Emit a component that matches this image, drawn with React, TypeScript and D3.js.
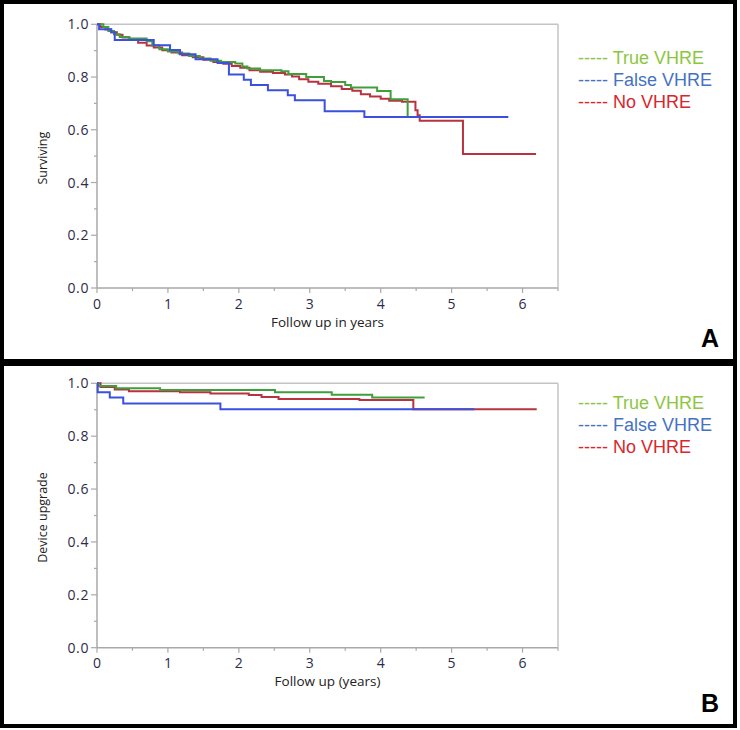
import React from 'react';
import * as d3 from 'd3';

type Pt = [number, number];

const seriesNames = ['True VHRE', 'False VHRE', 'No VHRE'];
const lineColors = ['#3f9f3a', '#3b50dc', '#b8323f'];
const legendColors = ['#8cc63f', '#4472c4', '#d9262b'];

const yTickValues = [0, 0.2, 0.4, 0.6, 0.8, 1.0];
const yMinorValues = [0.1, 0.3, 0.5, 0.7, 0.9];
const xTickValues = [0, 1, 2, 3, 4, 5, 6];
const xMinorValues = [0.5, 1.5, 2.5, 3.5, 4.5, 5.5, 6.5];

// Panel A: survival
const survTrue: Pt[] = [[0, 1], [0.09, 0.99], [0.16, 0.975], [0.24, 0.962], [0.32, 0.952], [0.45, 0.946], [0.7, 0.936], [0.78, 0.92], [0.88, 0.905], [1.0, 0.897], [1.15, 0.889], [1.3, 0.88], [1.45, 0.87], [1.6, 0.862], [1.75, 0.857], [1.95, 0.851], [2.05, 0.84], [2.12, 0.832], [2.3, 0.826], [2.6, 0.822], [2.7, 0.812], [2.95, 0.8], [3.2, 0.785], [3.3, 0.781], [3.5, 0.77], [3.58, 0.76], [3.95, 0.747], [4.14, 0.716], [4.38, 0.648]];
const survFalse: Pt[] = [[0, 1], [0.03, 0.981], [0.2, 0.97], [0.25, 0.94], [0.8, 0.921], [1.03, 0.903], [1.17, 0.886], [1.39, 0.867], [1.7, 0.853], [1.86, 0.81], [2.07, 0.79], [2.17, 0.77], [2.41, 0.75], [2.69, 0.731], [2.79, 0.712], [3.21, 0.67], [3.77, 0.648], [5.8, 0.648]];
const survNo: Pt[] = [[0, 1], [0.05, 0.99], [0.12, 0.98], [0.2, 0.97], [0.28, 0.96], [0.36, 0.95], [0.46, 0.94], [0.58, 0.93], [0.7, 0.92], [0.8, 0.912], [0.92, 0.902], [1.05, 0.893], [1.2, 0.883], [1.35, 0.875], [1.5, 0.866], [1.64, 0.857], [1.78, 0.85], [1.9, 0.842], [2.02, 0.835], [2.15, 0.826], [2.3, 0.82], [2.48, 0.815], [2.65, 0.81], [2.75, 0.802], [2.85, 0.792], [2.98, 0.782], [3.12, 0.775], [3.3, 0.765], [3.45, 0.755], [3.6, 0.748], [3.72, 0.735], [3.85, 0.726], [4.0, 0.718], [4.12, 0.71], [4.3, 0.706], [4.49, 0.674], [4.52, 0.655], [4.55, 0.634], [5.16, 0.508], [6.19, 0.508]];

// Panel B: device upgrade
const upgTrue: Pt[] = [[0, 1], [0.02, 0.99], [0.27, 0.981], [0.89, 0.975], [2.51, 0.966], [3.31, 0.957], [3.88, 0.946], [4.62, 0.946]];
const upgFalse: Pt[] = [[0, 1], [0.01, 0.966], [0.18, 0.946], [0.37, 0.924], [1.74, 0.902], [5.32, 0.902]];
const upgNo: Pt[] = [[0, 1], [0.05, 0.986], [0.25, 0.977], [0.45, 0.97], [1.17, 0.966], [1.6, 0.961], [2.14, 0.956], [2.32, 0.948], [2.56, 0.941], [3.7, 0.937], [4.46, 0.902], [6.2, 0.902]];

const tickFont = '"Open Sans", sans-serif';
const legendFont = '"Liberation Sans", Arial, sans-serif';

interface PanelProps {
  top: number;
  bottom: number;
  series: Pt[][];
  xTitle: string;
  yTitle: string;
  letter: string;
  letterY: number;
  legendY: number;
  xLabelY: number;
  xTitleY: number;
}

function Panel(p: PanelProps) {
  const x = d3.scaleLinear().domain([0, 6.5]).range([97, 558]);
  const y = d3.scaleLinear().domain([0, 1]).range([p.bottom, p.top]);
  const line = d3.line<Pt>().x(d => x(d[0])).y(d => y(d[1])).curve(d3.curveStepAfter);
  const drawOrder = [2, 0, 1];
  const axisColor = '#a9a9a9';
  const frameColor = '#c4c4c4';
  return (
    <g>
      {/* frame */}
      <line x1={x(0)} x2={x(6.5)} y1={y(1)} y2={y(1)} stroke={frameColor} strokeWidth={1.5} />
      <line x1={x(6.5)} x2={x(6.5)} y1={y(1)} y2={y(0)} stroke={frameColor} strokeWidth={1.5} />
      <line x1={x(0)} x2={x(0)} y1={y(1)} y2={y(0)} stroke={axisColor} strokeWidth={1.5} />
      <line x1={x(0)} x2={x(6.5)} y1={y(0)} y2={y(0)} stroke={axisColor} strokeWidth={1.5} />
      {yTickValues.map(v => (
        <g key={'yt' + v}>
          <line x1={x(0) - 6} x2={x(0)} y1={y(v)} y2={y(v)} stroke={axisColor} strokeWidth={1.2} />
          <text x={x(0) - 8} y={y(v) + 5} textAnchor="end" fontFamily={tickFont} fontSize={14} fill="#2c2c4a" letterSpacing={0.6}>{v.toFixed(1)}</text>
        </g>
      ))}
      {yMinorValues.map(v => (
        <line key={'ym' + v} x1={x(0) - 3} x2={x(0)} y1={y(v)} y2={y(v)} stroke={axisColor} strokeWidth={1.2} />
      ))}
      {xTickValues.map(v => (
        <g key={'xt' + v}>
          <line x1={x(v)} x2={x(v)} y1={y(0)} y2={y(0) + 5} stroke={axisColor} strokeWidth={1.2} />
          <text x={x(v)} y={p.xLabelY} textAnchor="middle" fontFamily={tickFont} fontSize={14} fill="#2c2c4a">{v}</text>
        </g>
      ))}
      {xMinorValues.map(v => (
        <line key={'xm' + v} x1={x(v)} x2={x(v)} y1={y(0)} y2={y(0) + 3} stroke={axisColor} strokeWidth={1.2} />
      ))}
      <text x={(x(0) + x(6.5)) / 2} y={p.xTitleY} textAnchor="middle" fontFamily={tickFont} fontSize={13.5} fill="#222">{p.xTitle}</text>
      <text transform={`translate(47,${(y(0) + y(1)) / 2 + 2}) rotate(-90)`} textAnchor="middle" fontFamily={tickFont} fontSize={12.5} fill="#222">{p.yTitle}</text>
      {drawOrder.map(i => (
        <path key={'s' + i} d={line(p.series[i]) || ''} fill="none" stroke={lineColors[i]} strokeWidth={2} />
      ))}
      {seriesNames.map((n, i) => (
        <text key={'lg' + i} x={578} y={p.legendY + i * 22} fontFamily={legendFont} fontSize={18} fill={legendColors[i]}>{'----- ' + n}</text>
      ))}
      <text x={701} y={p.letterY} fontFamily={legendFont} fontSize={25} fontWeight="bold" fill="#000">{p.letter}</text>
    </g>
  );
}

export default function App() {
  return (
    <svg width={740} height={730} style={{ position: 'absolute', left: 0, top: 0, background: '#fff' }}>
      <rect x={0} y={0} width={740} height={730} fill="#fff" />
      <rect x={2} y={2} width={733} height={359} fill="none" stroke="#000" strokeWidth={4} />
      <rect x={2} y={364} width={733} height={362} fill="none" stroke="#000" strokeWidth={4} />
      <Panel top={24.3} bottom={288} series={[survTrue, survFalse, survNo]} xTitle="Follow up in years" yTitle="Surviving" letter="A" letterY={347} legendY={63.5} xLabelY={309} xTitleY={326.5} />
      <Panel top={383.3} bottom={647.7} series={[upgTrue, upgFalse, upgNo]} xTitle="Follow up (years)" yTitle="Device upgrade" letter="B" letterY={712} legendY={408.5} xLabelY={668} xTitleY={686} />
    </svg>
  );
}
